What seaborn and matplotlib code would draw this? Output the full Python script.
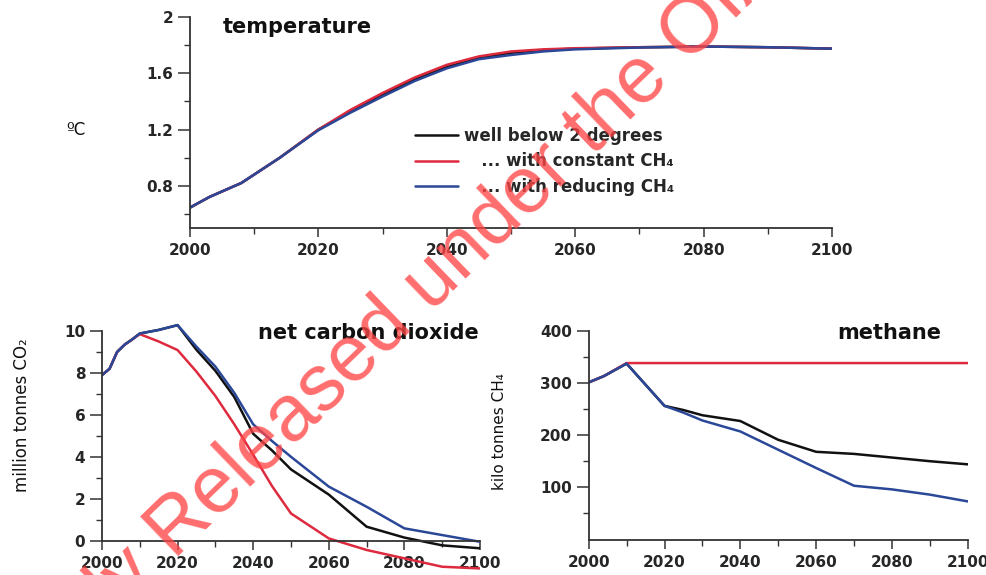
import matplotlib
matplotlib.use("Agg")
import matplotlib.pyplot as plt
import seaborn as sns
from matplotlib.lines import Line2D
from matplotlib.ticker import FixedLocator, FixedFormatter, MultipleLocator

sns.set_style("ticks")
plt.rcParams["font.family"] = ["DejaVu Sans"]
plt.rcParams["font.weight"] = "bold"

# ---------------- data ----------------
series_labels = ["well below 2 degrees", "   ... with constant CH₄", "   ... with reducing CH₄"]

temp_years = [2000, 2003, 2008, 2014, 2020, 2025, 2030, 2035, 2040, 2045, 2050,
              2055, 2060, 2070, 2080, 2090, 2100]
temp_wb2 = [0.645, 0.72, 0.82, 1.00, 1.20, 1.33, 1.45, 1.555, 1.645, 1.71, 1.745,
            1.765, 1.775, 1.785, 1.79, 1.785, 1.775]
temp_const = [0.645, 0.72, 0.82, 1.00, 1.20, 1.34, 1.46, 1.57, 1.66, 1.72, 1.755,
              1.77, 1.778, 1.785, 1.79, 1.785, 1.775]
temp_reduce = [0.645, 0.72, 0.82, 1.00, 1.195, 1.32, 1.435, 1.545, 1.635, 1.70, 1.73,
               1.755, 1.77, 1.783, 1.79, 1.785, 1.775]

co2_years = [2000, 2002, 2004, 2006, 2008, 2010, 2015, 2020, 2025, 2030, 2035,
             2040, 2045, 2050, 2060, 2070, 2080, 2090, 2100]
co2_wb2 = [7.9, 8.2, 9.0, 9.35, 9.6, 9.88, 10.05, 10.28, 9.1, 8.1, 6.85,
           5.1, 4.3, 3.4, 2.2, 0.67, 0.15, -0.22, -0.36]
co2_const = [7.9, 8.2, 9.0, 9.35, 9.6, 9.85, 9.5, 9.09, 8.06, 6.9, 5.55,
             4.1, 2.6, 1.3, 0.11, -0.44, -0.84, -1.24, -1.32]
co2_reduce = [7.9, 8.2, 9.0, 9.35, 9.6, 9.88, 10.05, 10.28, 9.25, 8.3, 7.05,
              5.55, 4.75, 4.0, 2.58, 1.62, 0.59, 0.27, -0.05]

ch4_years = [2000, 2004, 2010, 2020, 2025, 2030, 2040, 2050, 2060, 2070, 2080, 2090, 2100]
ch4_wb2 = [301, 313, 337, 256, 248, 238, 227, 191, 168, 164, 157, 150, 144]
ch4_reduce = [301, 313, 337, 256, 243, 228, 207, 172, 137, 103, 96, 86, 73]
ch4_const_years = [2000, 2004, 2010, 2100]
ch4_const = [301, 313, 338, 338]

temp_ticks = [0.8, 1.2, 1.6, 2.0]
temp_ticklabels = ["0.8", "1.2", "1.6", "2"]

# ---------------- styling ----------------
C_BLACK = "#111111"
C_RED = "#de2a3e"
C_BLUE = "#2b4798"
LW = 1.8
SPINE = "#333333"

W, H = 987, 575
fig = plt.figure(figsize=(W / 100, H / 100), dpi=100)


def px_axes(left, right, top, bottom):
    return fig.add_axes([left / W, 1 - bottom / H, (right - left) / W, (bottom - top) / H])


def style_axes(ax):
    sns.despine(ax=ax)
    for s in ("left", "bottom"):
        ax.spines[s].set_color(SPINE)
        ax.spines[s].set_linewidth(1.3)
    ax.tick_params(axis="y", which="major", length=8.5, width=1.1, pad=3.5,
                   labelsize=11, color=SPINE)
    ax.tick_params(axis="y", which="minor", length=4, width=1.0, color=SPINE)
    ax.tick_params(axis="x", which="major", length=6.5, width=1.1, pad=4.5,
                   labelsize=11, color=SPINE)
    ax.tick_params(axis="x", which="minor", length=4, width=1.0, color=SPINE)
    ax.set_xlim(2000, 2100)
    ax.xaxis.set_major_locator(MultipleLocator(20))
    ax.xaxis.set_minor_locator(MultipleLocator(10))
    ax.set_xlabel("")
    ax.set_ylabel("")


# ---- temperature ----
ax_t = px_axes(190, 832, 17, 228)
sns.lineplot(x=temp_years, y=temp_wb2, ax=ax_t, color=C_BLACK, lw=LW)
sns.lineplot(x=temp_years, y=temp_const, ax=ax_t, color=C_RED, lw=LW)
sns.lineplot(x=temp_years, y=temp_reduce, ax=ax_t, color=C_BLUE, lw=LW)
style_axes(ax_t)
ax_t.set_ylim(0.5, 2.0)
ax_t.yaxis.set_major_locator(FixedLocator(temp_ticks))
ax_t.yaxis.set_major_formatter(FixedFormatter(temp_ticklabels))
ax_t.yaxis.set_minor_locator(FixedLocator([0.6, 1.0, 1.4, 1.8]))

handles = [Line2D([], [], color=c, lw=LW) for c in (C_BLACK, C_RED, C_BLUE)]
ax_t.legend(handles, series_labels, loc="upper left",
            bbox_to_anchor=(415 / W, 1 - 127 / H), bbox_transform=fig.transFigure,
            frameon=False, borderpad=0, borderaxespad=0, handlelength=2.6,
            handletextpad=0.35, labelspacing=0.45, prop={"size": 12, "weight": "bold"})

# ---- net carbon dioxide ----
ax_c = px_axes(102, 480, 322.6, 572.2)
sns.lineplot(x=co2_years, y=co2_wb2, ax=ax_c, color=C_BLACK, lw=LW)
sns.lineplot(x=co2_years, y=co2_const, ax=ax_c, color=C_RED, lw=LW)
sns.lineplot(x=co2_years, y=co2_reduce, ax=ax_c, color=C_BLUE, lw=LW)
style_axes(ax_c)
ax_c.set_ylim(-1.5, 10.4)
ax_c.spines["bottom"].set_position(("data", 0))
ax_c.spines["left"].set_bounds(0, 10)
ax_c.yaxis.set_major_locator(FixedLocator([0, 2, 4, 6, 8, 10]))
ax_c.yaxis.set_minor_locator(FixedLocator([1, 3, 5, 7, 9]))

# ---- methane ----
ax_m = px_axes(588.7, 967.7, 330.7, 539.5)
sns.lineplot(x=ch4_years, y=ch4_wb2, ax=ax_m, color=C_BLACK, lw=LW)
sns.lineplot(x=ch4_const_years, y=ch4_const, ax=ax_m, color=C_RED, lw=LW)
sns.lineplot(x=ch4_years, y=ch4_reduce, ax=ax_m, color=C_BLUE, lw=LW)
style_axes(ax_m)
ax_m.set_ylim(0, 400)
ax_m.yaxis.set_major_locator(FixedLocator([100, 200, 300, 400]))
ax_m.yaxis.set_minor_locator(FixedLocator([50, 150, 250, 350]))

# ---- panel titles and unit labels ----
title_kw = dict(ha="center", va="center", fontsize=15, fontweight="bold", color="#111111")
fig.text(297 / W, 1 - 27 / H, "temperature", **title_kw)
fig.text(368.5 / W, 1 - 333 / H, "net carbon dioxide", **title_kw)
fig.text(889.5 / W, 1 - 333 / H, "methane", **title_kw)

unit_kw = dict(ha="center", va="center", fontweight="normal", color="#111111")
fig.text(76 / W, 1 - 130 / H, "ºC", fontsize=12, **unit_kw)
fig.text(22 / W, 1 - 415 / H, "million tonnes CO₂", fontsize=12, rotation=90, **unit_kw)
fig.text(499.5 / W, 1 - 432 / H, "kilo tonnes CH₄", fontsize=11, rotation=90, **unit_kw)

# ---- release stamp across the page ----
stamp_kw = dict(fontsize=57, fontweight="normal", family=["Liberation Sans", "DejaVu Sans"],
                color="#ff4545", alpha=0.78, rotation=44, rotation_mode="anchor",
                va="baseline", zorder=10)
fig.text(174 / W, 1 - 560 / H, "Released under the OIA", ha="left", **stamp_kw)
fig.text(174 / W, 1 - 560 / H, "Proactively ", ha="right", **stamp_kw)

fig.savefig("out.png", dpi=100)
